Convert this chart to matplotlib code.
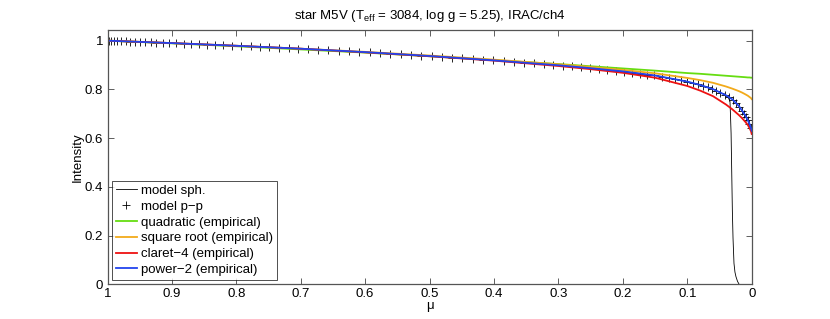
import matplotlib
matplotlib.use("Agg")
import matplotlib.pyplot as plt

plt.rcParams['font.family'] = ['Liberation Sans', 'DejaVu Sans']
plt.rcParams['mathtext.fontset'] = 'custom'
plt.rcParams['mathtext.rm'] = 'Liberation Sans'
plt.rcParams['mathtext.it'] = 'Liberation Sans'

# ---- data ----
mu_line = [1.0, 0.9, 0.8, 0.7, 0.6, 0.5, 0.4, 0.3, 0.25, 0.2, 0.15, 0.1, 0.08,
           0.06, 0.04, 0.03, 0.02, 0.015, 0.01, 0.006, 0.0035, 0.001, 0.0]
I_quadratic = [1.000, 0.989, 0.977, 0.964, 0.951, 0.936, 0.920, 0.904, 0.895, 0.886,
               0.877, 0.867, 0.864, 0.860, 0.856, 0.854, 0.852, 0.851, 0.850, 0.849,
               0.849, 0.848, 0.848]
I_sqrt = [1.000, 0.990, 0.979, 0.967, 0.954, 0.939, 0.922, 0.903, 0.892, 0.880,
          0.866, 0.847, 0.838, 0.827, 0.812, 0.803, 0.793, 0.787, 0.780, 0.774,
          0.769, 0.764, 0.760]
I_claret4 = [1.000, 0.990, 0.979, 0.967, 0.952, 0.936, 0.918, 0.896, 0.883, 0.868,
             0.848, 0.814, 0.795, 0.772, 0.738, 0.718, 0.695, 0.682, 0.667, 0.654,
             0.642, 0.628, 0.617]
I_power2 = [1.000, 0.990, 0.979, 0.967, 0.953, 0.937, 0.919, 0.899, 0.887, 0.874,
            0.857, 0.832, 0.818, 0.801, 0.776, 0.759, 0.732, 0.713, 0.693, 0.673,
            0.659, 0.640, 0.630]

mu_pp = [1.000, 0.999, 0.997, 0.994, 0.990, 0.985, 0.979, 0.972, 0.965, 0.958,
         0.950, 0.942, 0.933, 0.924, 0.914, 0.904, 0.893, 0.882, 0.870, 0.858,
         0.846, 0.833, 0.820, 0.806, 0.792, 0.778, 0.764, 0.749, 0.734, 0.719,
         0.704, 0.689, 0.673, 0.657, 0.641, 0.625, 0.609, 0.593, 0.577, 0.561,
         0.545, 0.529, 0.513, 0.497, 0.481, 0.465, 0.449, 0.433, 0.417, 0.401,
         0.385, 0.369, 0.353, 0.338, 0.323, 0.308, 0.293, 0.279, 0.265, 0.251,
         0.237, 0.224, 0.211, 0.198, 0.186, 0.174, 0.162, 0.151, 0.140, 0.129,
         0.119, 0.109, 0.100, 0.091, 0.083, 0.075, 0.068, 0.061, 0.055, 0.049,
         0.042, 0.035, 0.029, 0.024, 0.019, 0.015, 0.012, 0.009, 0.006, 0.0035,
         0.001]
I_pp = [1.000, 1.000, 0.9997, 0.9994, 0.999, 0.9985, 0.9979, 0.9972, 0.9965, 0.9958,
        0.995, 0.9942, 0.9933, 0.9924, 0.9914, 0.9904, 0.9892, 0.9880, 0.9867, 0.9854,
        0.9841, 0.9826, 0.9812, 0.9797, 0.9780, 0.9764, 0.9747, 0.9729, 0.9711, 0.9693,
        0.9675, 0.9655, 0.9632, 0.9610, 0.9587, 0.9565, 0.9543, 0.9519, 0.9493, 0.9468,
        0.9442, 0.9416, 0.9391, 0.9365, 0.9336, 0.9307, 0.9278, 0.9249, 0.9221, 0.9192,
        0.9160, 0.9128, 0.9096, 0.9066, 0.9036, 0.9006, 0.8973, 0.8940, 0.8906, 0.8872,
        0.8836, 0.8802, 0.8769, 0.8733, 0.8692, 0.8652, 0.8611, 0.8573, 0.8520, 0.8465,
        0.8415, 0.8365, 0.8320, 0.8257, 0.8201, 0.8138, 0.8078, 0.8019, 0.7948, 0.7872,
        0.7785, 0.7675, 0.7563, 0.7428, 0.7282, 0.713, 0.701, 0.688, 0.673, 0.659,
        0.640]

mu_sph = [1.0, 0.9, 0.8, 0.7, 0.6, 0.5, 0.4, 0.3, 0.25, 0.2, 0.15, 0.1, 0.08, 0.06,
          0.042, 0.036, 0.0337, 0.033, 0.032, 0.031, 0.030, 0.029, 0.028, 0.0275,
          0.026, 0.0244, 0.022, 0.0195]
I_sph = [1.000, 0.990, 0.979, 0.967, 0.953, 0.937, 0.919, 0.899, 0.887, 0.874, 0.857,
         0.832, 0.818, 0.801, 0.778, 0.765, 0.750, 0.700, 0.620, 0.460, 0.300, 0.190,
         0.120, 0.086, 0.050, 0.031, 0.012, 0.0]

x_ticks = [1, 0.9, 0.8, 0.7, 0.6, 0.5, 0.4, 0.3, 0.2, 0.1, 0]
x_labels = ['1', '0.9', '0.8', '0.7', '0.6', '0.5', '0.4', '0.3', '0.2', '0.1', '0']
y_ticks = [0, 0.2, 0.4, 0.6, 0.8, 1.0]
y_labels = ['0', '0.2', '0.4', '0.6', '0.8', '1']

# ---- figure ----
fs = 9.5
fig = plt.figure(figsize=(8.30, 3.19), dpi=100)
ax = fig.add_axes([107.5 / 830, 1 - 284.3 / 319, (751.7 - 107.5) / 830, (284.3 - 29.7) / 319])

ax.plot(mu_sph, I_sph, color='black', lw=0.6, label='model sph.')
ax.plot(mu_pp, I_pp, ls='none', marker='+', color='black', ms=5.5, mew=0.6,
        label='model p\u2212p')
ax.plot(mu_line, I_quadratic, color='#66DD11', lw=1.3, label='quadratic (empirical)')
ax.plot(mu_line, I_sqrt, color='#F2AA1A', lw=1.3, label='square root (empirical)')
ax.plot(mu_line, I_claret4, color='#EE1111', lw=1.3, label='claret\u22124 (empirical)')
ax.plot(mu_line, I_power2, color='#2244EE', lw=1.3, label='power\u22122 (empirical)')

ax.set_xlim(1, 0)
ax.set_ylim(0, 1.045)
ax.set_xticks(x_ticks)
ax.set_xticklabels(x_labels, fontsize=fs)
ax.set_yticks(y_ticks)
ax.set_yticklabels(y_labels, fontsize=fs)
ax.tick_params(direction='in', top=True, right=True, length=4, width=0.6,
               color='#444444', pad=3)
for s in ax.spines.values():
    s.set_color('#555555')
    s.set_linewidth(0.9)

ax.set_xlabel('\u03bc', fontsize=fs, labelpad=0)
ax.set_ylabel('Intensity', fontsize=fs, labelpad=1)
ax.set_title('star M5V (T$_{\\mathrm{eff}}$ = 3084, log g = 5.25), IRAC/ch4',
             fontsize=fs, pad=8)

leg = ax.legend(loc='lower left', bbox_to_anchor=(4.2 / 644.2, 4.3 / 254.6),
                borderaxespad=0, fontsize=fs, frameon=True, fancybox=False,
                handlelength=1.6, handletextpad=0.3, labelspacing=0.27,
                borderpad=0.3)
leg.get_frame().set_edgecolor('black')
leg.get_frame().set_linewidth(0.6)

fig.savefig('out.png', dpi=100)
